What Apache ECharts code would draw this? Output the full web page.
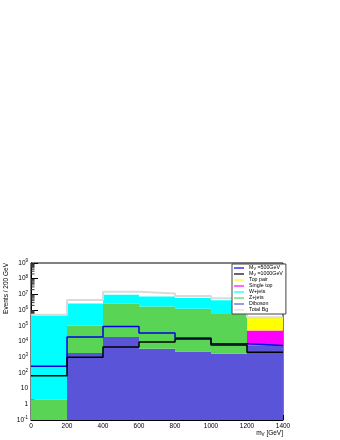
<!DOCTYPE html>
<html lang="en">
<head>
<meta charset="UTF-8">
<title>m_V stack</title>
<script src="https://cdn.jsdelivr.net/npm/echarts@6/dist/echarts.min.js"></script>
<style>
    html, body { margin: 0; padding: 0; background: #fff; }
    #main { width: 340px; height: 440px; }
</style>
</head>
<body>
<div id="main"></div>
<script>
// bins (GeV)
var binLow = [0, 200, 400, 600, 800, 1000, 1200];
var binWidth = 200;

// backgrounds, per bin (not cumulative)
var diboson   = [0, 1850, 19500, 3500, 2300, 1650, 5400];
var zjets     = [2, 98000, 2580000, 1700000, 1228000, 558000, 0];
var wjets     = [460000, 2500000, 7000000, 5700000, 4670000, 3640000, 0];
var singleTop = [0, 0, 0, 0, 0, 0, 45600];
var topPair   = [0, 0, 0, 0, 0, 0, 269000];
var totalBg   = [500000, 4400000, 15000000, 11500000, 7900000, 5600000, 350000];

// signals
var sig500  = [265, 19500, 91000, 35000, 16500, 7200, 5500];
var sig1000 = [67, 1000, 4500, 9400, 14500, 6000, 2100];

var yTicks = [-1, 0, 1, 2, 3, 4, 5, 6, 7, 8];  // decades for minor ticks

var yMin = 0.1, yMax = 1e9;
var font = 'Liberation Sans';

var chart = echarts.init(document.getElementById('main'));

function stackSeries(name, color, vals, base) {
    var data = [];
    for (var i = 0; i < vals.length; i++) {
        if (vals[i] > 0) {
            data.push([binLow[i], binLow[i] + binWidth, Math.max(base[i], yMin), base[i] + vals[i]]);
        }
        base[i] += vals[i];
    }
    return {
        name: name,
        type: 'custom',
        z: 2,
        silent: true,
        itemStyle: { color: color },
        encode: { x: [0, 1], y: [2, 3] },
        renderItem: function (params, api) {
            var p0 = api.coord([api.value(0), api.value(3)]);
            var p1 = api.coord([api.value(1), api.value(2)]);
            return {
                type: 'rect',
                shape: { x: p0[0], y: p0[1], width: p1[0] - p0[0], height: p1[1] - p0[1] },
                style: { fill: color }
            };
        },
        data: data
    };
}

function histLine(name, color, width, vals, z) {
    var pts = binLow.map(function (x, i) { return [x, vals[i]]; });
    pts.push([binLow[binLow.length - 1] + binWidth, vals[vals.length - 1]]);
    return {
        name: name,
        type: 'line',
        step: 'end',
        z: z,
        silent: true,
        symbol: 'none',
        itemStyle: { color: color },
        lineStyle: { color: color, width: width },
        data: pts
    };
}

var base = binLow.map(function () { return 0; });
var series = [
    stackSeries('Diboson', '#5954d8', diboson, base),
    stackSeries('Z+jets', '#59d454', zjets, base),
    stackSeries('W+jets', '#00ffff', wjets, base),
    stackSeries('Single top', '#ff00ff', singleTop, base),
    stackSeries('Top pair', '#ffff00', topPair, base),
    histLine('Total Bg', '#dadada', 2, totalBg, 3),
    histLine('M_V =500GeV', '#0000e6', 1.5, sig500, 4),
    histLine('M_V =1000GeV', '#000000', 1.5, sig1000, 5),
    {
        // ROOT-style minor ticks on the log axis (2..9 per decade)
        type: 'custom',
        z: 1,
        silent: true,
        renderItem: function (params, api) {
            var dec = Math.pow(10, api.value(0));
            var kids = [];
            for (var d = 2; d <= 9; d++) {
                var p = api.coord([0, d * dec]);
                kids.push({ type: 'line', shape: { x1: p[0], y1: p[1], x2: p[0] + 3.5, y2: p[1] }, style: { stroke: '#333', lineWidth: 1 } });
            }
            return { type: 'group', children: kids };
        },
        data: yTicks.map(function (k) { return [k]; }),
        encode: { x: -1, y: -1 }
    }
];

function sup(v) {
    var k = Math.round(Math.log10(v));
    if (k === 0) return '{b|1}';
    if (k === 1) return '{b|10}';
    return '{b|10}{s|' + k + '}';
}

var option = {
    animation: false,
    backgroundColor: '#fff',
    textStyle: { fontFamily: font },
    grid: {
        left: 31, right: 57, top: 263, bottom: 20,
        show: true, borderColor: '#000', borderWidth: 1, backgroundColor: 'transparent'
    },
    legend: {
        orient: 'vertical',
        left: 232, top: 264,
        padding: [1, 3, 1, 2],
        backgroundColor: '#fff',
        borderColor: '#444',
        borderWidth: 1,
        selectedMode: false,
        icon: 'rect',
        itemWidth: 10, itemHeight: 1.2,
        itemGap: 0,
        itemTextGap: 3,
        textStyle: {
            fontFamily: font, fontSize: 5.3, color: '#000', lineHeight: 6,
            rich: {
                n: { fontFamily: font, fontSize: 5.3, lineHeight: 6, color: '#000' },
                u: { fontFamily: font, fontSize: 3.8, lineHeight: 3.5, verticalAlign: 'bottom', color: '#000' }
            }
        },
        formatter: function (name) {
            if (name.indexOf('M_V') === 0) return '{n|M}{u|V}{n|' + name.slice(3) + '}';
            return name;
        },
        data: ['M_V =500GeV', 'M_V =1000GeV', 'Top pair', 'Single top', 'W+jets', 'Z+jets', 'Diboson', 'Total Bg']
    },
    xAxis: {
        type: 'value',
        min: 0, max: 1400, interval: 200,
        axisLine: { show: true, onZero: false, lineStyle: { color: '#000', width: 1 } },
        axisTick: { show: true, inside: true, length: 5, lineStyle: { color: '#000' } },
        axisLabel: {
            fontFamily: font, fontSize: 6.5, color: '#000', margin: 3,
            formatter: function (v) { return String(v); }
        },
        splitLine: { show: false }
    },
    yAxis: {
        type: 'log',
        logBase: 10,
        min: yMin, max: yMax,
        interval: 1,
        axisLine: { show: true, lineStyle: { color: '#000', width: 1 } },
        axisTick: { show: true, inside: true, length: 7, lineStyle: { color: '#000' } },
        axisLabel: {
            margin: 3,
            formatter: sup,
            rich: {
                b: { fontFamily: font, fontSize: 6.5, lineHeight: 9, color: '#000' },
                s: { fontFamily: font, fontSize: 4.5, lineHeight: 4, verticalAlign: 'top', color: '#000' }
            }
        },
        splitLine: { show: false }
    },
    graphic: [
        {
            type: 'text',
            x: 3, y: 263,
            rotation: Math.PI / 2,
            style: {
                text: 'Events / 200 GeV',
                font: '6.5px "Liberation Sans"',
                fill: '#000',
                align: 'right',
                verticalAlign: 'top'
            }
        },
        {
            type: 'text',
            x: 283, y: 429,
            style: {
                text: '{n|m}{u|V}{n| [GeV]}',
                align: 'right',
                verticalAlign: 'top',
                rich: {
                    n: { fontFamily: font, fontSize: 6.5, lineHeight: 8, fill: '#000' },
                    u: { fontFamily: font, fontSize: 4.5, lineHeight: 4, verticalAlign: 'bottom', fill: '#000' }
                }
            }
        }
    ],
    series: series
};

chart.setOption(option);
</script>
</body>
</html>
